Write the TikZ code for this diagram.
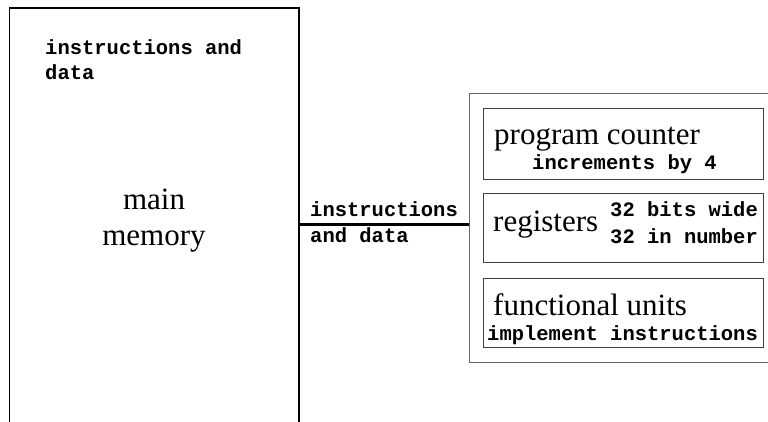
\documentclass[tikz,border=0pt]{standalone}
\usepackage{fontspec}
\setmainfont{Liberation Serif}
\newfontfamily\courfont{Liberation Mono}
\begin{document}
\begin{tikzpicture}[x=1pt,y=-1pt,
  mono/.style={font=\courfont\bfseries\fontsize{20.5}{24}\selectfont, inner sep=0pt, anchor=base west},
  serif/.style={font=\fontsize{31}{36}\selectfont, inner sep=0pt, anchor=base west},
  unitbox/.style={draw=black!75, line width=1pt, minimum width=280pt, inner sep=0pt, anchor=north west},
  cpubox/.style={draw=black!60, line width=1.1pt, minimum width=301pt, minimum height=269pt, inner sep=0pt, anchor=north west},
  memline/.style={draw=black, line width=1.3pt},
  bus/.style={draw=black, line width=3pt}]
\useasboundingbox (0,0) rectangle (768,422);
\clip (0,0) rectangle (768,422);
% main memory (open at the bottom)
\coordinate (memBL) at (9.5,423);
\coordinate (memTL) at (9.5,8);
\coordinate (memTR) at (299,8);
\coordinate (memBR) at (299,423);
\draw[memline] (memBL) -- (memTL) -- (memTR) -- (memBR);
\coordinate (memR) at (299,224);
\node[mono] (memtop1) at (45,55) {instructions and};
\node[mono] (memtop2) at (45,80) {data};
\node[serif, anchor=base] (mem1) at (154,210) {main};
\node[serif, anchor=base] (mem2) at (154,245) {memory};
% processor
\node[cpubox] (cpu) at (469,93) {};
\draw[bus] (memR) -- (memR -| cpu.west);
\node[mono] (bus1) at (310,217) {instructions};
\node[mono] (bus2) at (310,242) {and data};
% program counter
\node[unitbox, minimum height=71pt] (pc) at (483,108) {};
\node[serif] (pct) at (494,145) {program counter};
\node[mono] (pcn) at (532,170) {increments by 4};
% registers
\node[unitbox, minimum height=69pt] (reg) at (483,193) {};
\node[serif] (regt) at (493,232) {registers};
\node[mono] (regn1) at (610,216) {32 bits wide};
\node[mono] (regn2) at (610,243) {32 in number};
% functional units
\node[unitbox, minimum height=69pt] (fu) at (483,278) {};
\node[serif] (fut) at (493,315) {functional units};
\node[mono] (fun) at (487,340) {implement instructions};
\end{tikzpicture}
\end{document}
